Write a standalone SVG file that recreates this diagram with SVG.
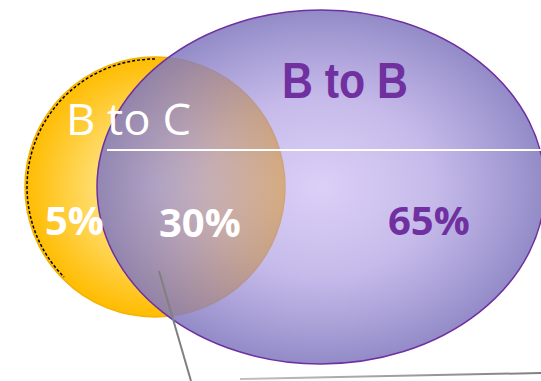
<svg xmlns="http://www.w3.org/2000/svg" width="541" height="381" viewBox="0 0 541 381">
<defs>
<style>
.pct{font-family:"Open Sans","Liberation Sans",sans-serif;font-weight:700;font-size:40px}
.white{fill:#FFFFFF}
.purple{fill:#7030A0}
.conn{stroke:#808080;stroke-width:2;fill:none}
</style>
<radialGradient id="gY" cx="155" cy="187" r="130" gradientUnits="userSpaceOnUse">
<stop offset="0" stop-color="#FFF2A8"/>
<stop offset="0.45" stop-color="#FFDD70"/>
<stop offset="1" stop-color="#FFBC00"/>
</radialGradient>
<radialGradient id="gP" cx="321" cy="187" r="224" gradientTransform="translate(321 187) scale(1 0.79) translate(-321 -187)" gradientUnits="userSpaceOnUse">
<stop offset="0" stop-color="#B8A0F0" stop-opacity="0.5"/>
<stop offset="0.5" stop-color="#A290DC" stop-opacity="0.62"/>
<stop offset="1" stop-color="#8078BE" stop-opacity="0.86"/>
</radialGradient>
<linearGradient id="gL" x1="240" y1="0" x2="541" y2="0" gradientUnits="userSpaceOnUse">
<stop offset="0" stop-color="#C0C0C0"/>
<stop offset="1" stop-color="#808080"/>
</linearGradient>
</defs>
<g id="btoc-circle">
<circle cx="155" cy="187" r="130" fill="url(#gY)" stroke="#F5B000" stroke-width="1.5"/>
<path d="M155 59 A128 128 0 0 0 64 277" fill="none" stroke="#000" stroke-width="1.5" stroke-dasharray="3 2"/>
</g>
<g id="btob-ellipse">
<ellipse cx="321" cy="187" rx="224" ry="177" fill="url(#gP)" stroke="#7030A0" stroke-width="1.5"/>
</g>
<g id="connectors">
<line x1="107" y1="150" x2="541" y2="150" stroke="#FFFFFF" stroke-width="2"/>
<line class="conn" x1="159" y1="271" x2="191" y2="381"/>
<line x1="240" y1="379" x2="541" y2="373" stroke="url(#gL)" stroke-width="2"/>
</g>
<g id="labels">
<text x="66" y="135" class="white" font-family="'Open Sans','Liberation Sans',sans-serif" font-weight="400" font-size="43" textLength="125" lengthAdjust="spacingAndGlyphs">B to C</text>
<text x="282" y="98" class="purple" font-family="'Liberation Sans',Arial,sans-serif" font-weight="700" font-size="50" textLength="126" lengthAdjust="spacingAndGlyphs">B to B</text>
<text x="45" y="235" class="pct white">5%</text>
<text x="159" y="237" class="pct white">30%</text>
<text x="388" y="235" class="pct purple" font-size="38">65%</text>
</g>
</svg>
